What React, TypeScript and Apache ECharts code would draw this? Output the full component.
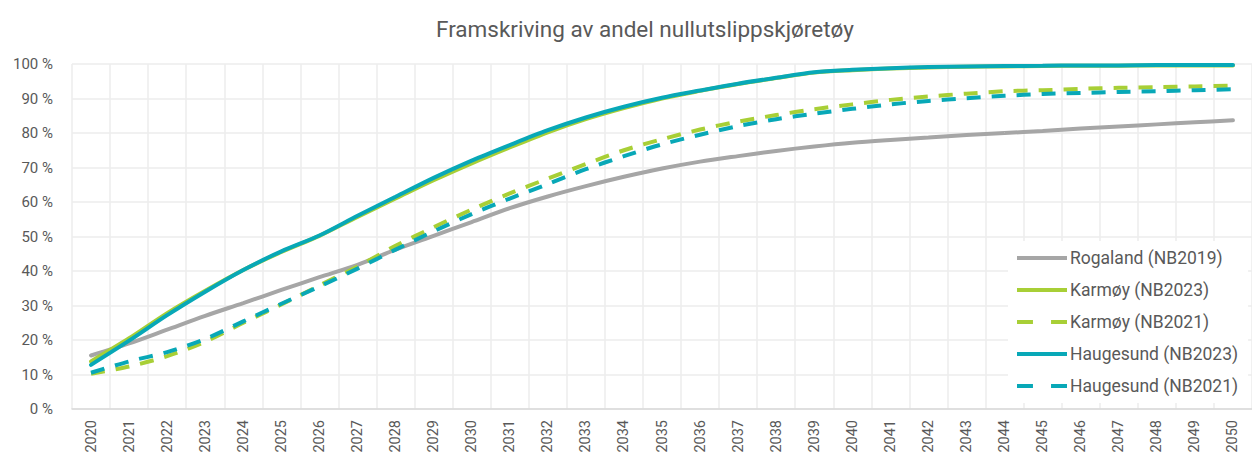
import React, { useEffect, useRef } from "react";
import * as echarts from "echarts";

const years = [
  "2020","2021","2022","2023","2024","2025","2026","2027","2028","2029",
  "2030","2031","2032","2033","2034","2035","2036","2037","2038","2039",
  "2040","2041","2042","2043","2044","2045","2046","2047","2048","2049","2050",
];

const rogalandNB2019 = [
  15.5, 19, 23, 27, 30.7, 34.5, 38.2, 41.8, 46.2, 50.2,
  54.2, 58.2, 61.6, 64.6, 67.3, 69.7, 71.7, 73.3, 74.8, 76.1,
  77.2, 78, 78.7, 79.4, 80, 80.6, 81.3, 81.9, 82.5, 83.1, 83.7,
];

const karmoyNB2023 = [
  13.8, 20.5, 27.8, 34.3, 40.3, 45.5, 50.2, 55.7, 61, 66.3,
  71.2, 75.8, 80.2, 84, 87.2, 90, 92.2, 94.2, 95.9, 97.5,
  98.2, 98.7, 99, 99.2, 99.3, 99.4, 99.5, 99.5, 99.6, 99.6, 99.6,
];

const karmoyNB2021 = [
  10.2, 12.3, 15.3, 19.5, 25, 30.3, 35.8, 41.3, 47.3, 52.7,
  57.8, 62.5, 66.8, 71, 75, 78.2, 81, 83.3, 85.2, 86.9,
  88.3, 89.6, 90.6, 91.4, 92.1, 92.4, 92.8, 93.1, 93.3, 93.5, 93.7,
];

const haugesundNB2023 = [
  12.8, 19.8, 27.2, 34, 40.3, 45.7, 50.3, 56, 61.5, 67,
  72, 76.5, 80.8, 84.5, 87.6, 90.2, 92.3, 94.3, 96, 97.6,
  98.3, 98.8, 99.1, 99.3, 99.4, 99.5, 99.6, 99.6, 99.7, 99.7, 99.7,
];

const haugesundNB2021 = [
  10.5, 13.8, 16.5, 20.3, 25.4, 30.5, 35.5, 40.7, 46.2, 51.5,
  56.5, 61, 65.2, 69.5, 73.3, 76.7, 79.5, 82, 84, 85.6,
  87, 88.3, 89.3, 90.1, 90.8, 91.3, 91.6, 91.9, 92.1, 92.4, 92.7,
];

const GRAY = "#A6A6A6";
const GREEN = "#A8CF36";
const TEAL = "#08A8B7";
const TEXT = "#595959";
const FONT = "Roboto, 'DejaVu Sans', sans-serif";

const SOLID_ICON = "path://M0,0h50v4h-50z";
const DASH_ICON = "path://M0,0h15v4h-15zM32,0h15v4h-15z";

export default function App() {
  const ref = useRef<HTMLDivElement>(null);

  useEffect(() => {
    if (!ref.current) return;
    const chart = echarts.init(ref.current, undefined, { renderer: "svg" });
    const mk = (name: string, data: number[], color: string, dashed: boolean) => ({
      name,
      type: "line",
      data,
      symbol: "none",
      smooth: 0.3,
      lineStyle: {
        color,
        width: 4,
        type: dashed ? [14, 11] : "solid",
        cap: dashed ? "butt" : "round",
      },
      itemStyle: { color },
    });
    chart.setOption({
      animation: false,
      backgroundColor: "#fff",
      textStyle: { fontFamily: FONT },
      title: {
        text: "Framskriving av andel nullutslippskjøretøy",
        left: 431,
        top: 12,
        textStyle: { fontFamily: FONT, fontSize: 22.5, fontWeight: "normal", color: TEXT },
      },
      grid: { left: 72, top: 64, width: 1190, height: 345, containLabel: false },
      legend: {
        orient: "vertical",
        left: 1008,
        top: 241,
        padding: [8, 10, 8, 9],
        backgroundColor: "#fff",
        itemWidth: 50,
        itemHeight: 4,
        itemGap: 14,
        symbolKeepAspect: false,
        textStyle: { fontFamily: FONT, fontSize: 17.5, color: TEXT, padding: [0, 0, 0, -2] },
        data: [
          { name: "Rogaland (NB2019)", icon: SOLID_ICON },
          { name: "Karmøy (NB2023)", icon: SOLID_ICON },
          { name: "Karmøy (NB2021)", icon: DASH_ICON },
          { name: "Haugesund (NB2023)", icon: SOLID_ICON },
          { name: "Haugesund (NB2021)", icon: DASH_ICON },
        ],
      },
      xAxis: {
        type: "category",
        data: years,
        boundaryGap: true,
        axisLine: { lineStyle: { color: "#D9D9D9", width: 1.5 } },
        axisTick: { show: false },
        axisLabel: { rotate: 90, margin: 11, fontSize: 14.5, color: TEXT, fontFamily: FONT },
        splitLine: { show: true, lineStyle: { color: "#EDEDED", width: 1.5 } },
      },
      yAxis: {
        type: "value",
        min: 0,
        max: 100,
        interval: 10,
        axisLine: { show: false },
        axisTick: { show: false },
        axisLabel: { formatter: "{value} %", fontSize: 15, margin: 19, color: TEXT, fontFamily: FONT },
        splitLine: { lineStyle: { color: "#EDEDED", width: 1.5 } },
      },
      series: [
        mk("Rogaland (NB2019)", rogalandNB2019, GRAY, false),
        mk("Karmøy (NB2023)", karmoyNB2023, GREEN, false),
        mk("Karmøy (NB2021)", karmoyNB2021, GREEN, true),
        mk("Haugesund (NB2023)", haugesundNB2023, TEAL, false),
        mk("Haugesund (NB2021)", haugesundNB2021, TEAL, true),
      ],
    });
    return () => chart.dispose();
  }, []);

  return (
    <div
      ref={ref}
      style={{ position: "fixed", left: 0, top: 0, width: 1252, height: 457, background: "#fff" }}
    />
  );
}
